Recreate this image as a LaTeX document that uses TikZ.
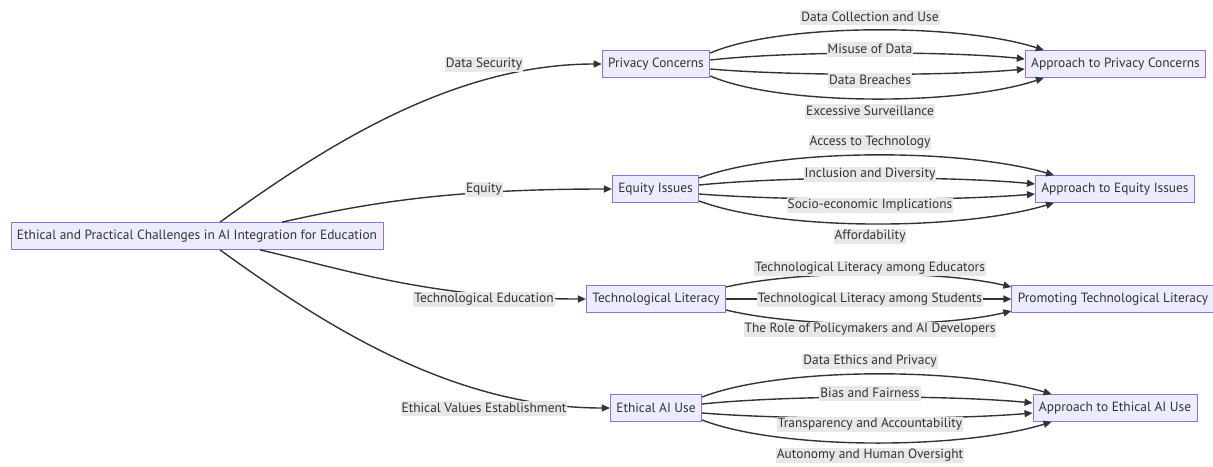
\documentclass[tikz,border=0pt]{standalone}
\usepackage{fontspec}
\setmainfont{PT Sans}
\usetikzlibrary{arrows.meta,calc}
\definecolor{boxfill}{HTML}{ECECFF}
\definecolor{boxline}{HTML}{9370DB}
\definecolor{ink}{HTML}{333333}
\definecolor{tagfill}{HTML}{E8E8E8}
\begin{document}
\begin{tikzpicture}[x=1pt,y=-1pt,
  font=\fontsize{13.4}{15}\selectfont,
  box/.style={draw=boxline,fill=boxfill,line width=0.8pt,text=ink,
    minimum height=27,inner xsep=6pt,inner ysep=0pt},
  edge/.style={draw=ink,line width=1.4pt,-{Triangle[length=8pt,width=7pt]}},
  tag/.style={fill=tagfill,text=ink,inner xsep=1pt,inner ysep=0pt,minimum height=15}]
\useasboundingbox (0,0) rectangle (1213,466);

% boxes
\node[box] (root) at (197,236) {Ethical and Practical Challenges in AI Integration for Education};
\node[box] (pc)  at (656,64)  {Privacy Concerns};
\node[box] (ei)  at (655.5,189) {Equity Issues};
\node[box] (tl)  at (656,299) {Technological Literacy};
\node[box] (eu)  at (656,408) {Ethical AI Use};
\node[box] (apc) at (1115.5,64) {Approach to Privacy Concerns};
\node[box] (aei) at (1115,189) {Approach to Equity Issues};
\node[box] (ptl) at (1113,299) {Promoting Technological Literacy};
\node[box] (aeu) at (1115,408) {Approach to Ethical AI Use};

% branches from the root
\draw[edge] ($(root.north)+(23,0)$) .. controls (320,150) and (450,64) .. (pc.west);
\draw[edge] ($(root.north)+(85,0)$) .. controls (360,205) and (440,189) .. (ei.west);
\draw[edge] ($(root.south)+(63,0)$) .. controls (340,268) and (430,299) .. (tl.west);
\draw[edge] ($(root.south)+(23,0)$) .. controls (320,322) and (450,408) .. (eu.west);

% privacy fan
\draw[edge] ($(pc.east)+(0,-11)$) .. controls (780,23) and (960,23) .. ($(apc.north west)+(19,0)$);
\draw[edge] ($(pc.east)+(0,-4)$) .. controls (790,51) and (950,51) .. ($(apc.west)+(0,-5)$);
\draw[edge] ($(pc.east)+(0,5)$) .. controls (790,76) and (950,76) .. ($(apc.west)+(0,5)$);
\draw[edge] ($(pc.east)+(0,12)$) .. controls (780,106) and (960,106) .. ($(apc.south west)+(19,0)$);

% equity fan
\draw[edge] ($(ei.east)+(0,-11)$) .. controls (780,148) and (960,148) .. ($(aei.north west)+(19,0)$);
\draw[edge] ($(ei.east)+(0,-4)$) .. controls (790,176) and (950,176) .. ($(aei.west)+(0,-5)$);
\draw[edge] ($(ei.east)+(0,5)$) .. controls (790,201) and (950,201) .. ($(aei.west)+(0,5)$);
\draw[edge] ($(ei.east)+(0,12)$) .. controls (780,231) and (960,231) .. ($(aei.south west)+(19,0)$);

% literacy fan
\draw[edge] ($(tl.east)+(0,-12)$) .. controls (800,270) and (940,270) .. ($(ptl.west)+(0,-12)$);
\draw[edge] (tl.east) -- (ptl.west);
\draw[edge] ($(tl.east)+(0,11)$) .. controls (800,328) and (940,328) .. ($(ptl.west)+(0,12)$);

% ethics fan
\draw[edge] ($(eu.east)+(0,-11)$) .. controls (780,367) and (960,367) .. ($(aeu.north west)+(19,0)$);
\draw[edge] ($(eu.east)+(0,-4)$) .. controls (790,395) and (950,395) .. ($(aeu.west)+(0,-5)$);
\draw[edge] ($(eu.east)+(0,5)$) .. controls (790,420) and (950,420) .. ($(aeu.west)+(0,5)$);
\draw[edge] ($(eu.east)+(0,12)$) .. controls (780,450) and (960,450) .. ($(aeu.south west)+(19,0)$);

% edge labels
\node[tag] (t1) at (484,64)  {Data Security};
\node[tag] (t2) at (484,189) {Equity};
\node[tag] (t3) at (484,299) {Technological Education};
\node[tag] (t4) at (484,408) {Ethical Values Establishment};

\node[tag] (p1) at (870,17)  {Data Collection and Use};
\node[tag] (p2) at (870,49)  {Misuse of Data};
\node[tag] (p3) at (870,80)  {Data Breaches};
\node[tag] (p4) at (870,111) {Excessive Surveillance};

\node[tag] (q1) at (870,142) {Access to Technology};
\node[tag] (q2) at (870,174) {Inclusion and Diversity};
\node[tag] (q3) at (870,205) {Socio-economic Implications};
\node[tag] (q4) at (870,236) {Affordability};

\node[tag] (r1) at (870,268) {Technological Literacy among Educators};
\node[tag] (r2) at (870,299) {Technological Literacy among Students};
\node[tag] (r3) at (870,329) {The Role of Policymakers and AI Developers};

\node[tag] (s1) at (870,361) {Data Ethics and Privacy};
\node[tag] (s2) at (870,393) {Bias and Fairness};
\node[tag] (s3) at (870,424) {Transparency and Accountability};
\node[tag] (s4) at (870,455) {Autonomy and Human Oversight};
\end{tikzpicture}
\end{document}
